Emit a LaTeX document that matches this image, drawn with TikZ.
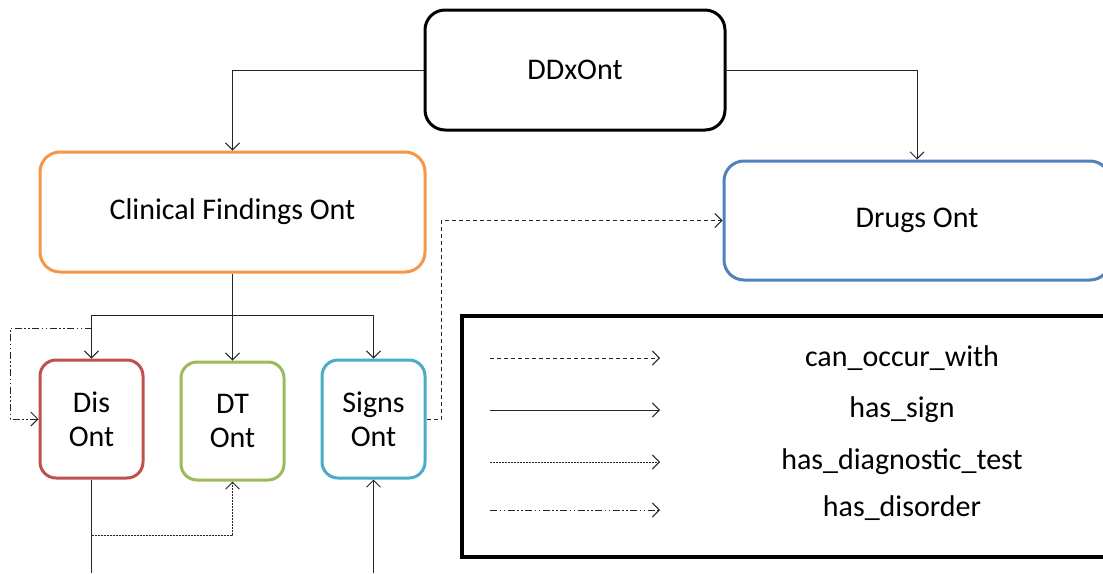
\documentclass[tikz,border=0pt]{standalone}
\usepackage{fontspec}
\setmainfont{Carlito}
\usetikzlibrary{arrows.meta}
\definecolor{ddxorange}{HTML}{F79646}
\definecolor{ddxred}{HTML}{C0504D}
\definecolor{ddxgreen}{HTML}{9BBB59}
\definecolor{ddxcyan}{HTML}{4BACC6}
\definecolor{ddxblue}{HTML}{4F81BD}
\definecolor{link}{HTML}{262626}
\tikzset{
  box/.style={draw, line width=3pt, rounded corners=20pt, fill=white,
    align=center, inner sep=0pt, font=\fontsize{30}{34}\selectfont},
  small/.style={box, rounded corners=16pt, minimum width=103pt, minimum height=118pt},
  link/.style={draw=link, line width=1pt, -{Straight Barb[length=7pt,width=14pt]}},
  hassign/.style={link},
  canoccur/.style={link, dash pattern=on 4pt off 3pt},
  hastest/.style={link, dash pattern=on 2pt off 1pt},
  hasdisorder/.style={link, dash pattern=on 7pt off 2.5pt on 1.5pt off 2.5pt on 1.5pt off 2.5pt},
  legendtext/.style={font=\fontsize{30}{34}\selectfont, anchor=center, inner sep=0pt}
}
\begin{document}
\begin{tikzpicture}[x=1pt, y=-1pt]
\useasboundingbox (0,0) rectangle (1103,573);

% main ontology boxes
\node[box, minimum width=300pt, minimum height=120pt] (ddx) at (575,70) {DDxOnt};
\node[box, draw=ddxorange, minimum width=385pt, minimum height=120pt] (cf) at (232.5,212) {Clinical Findings Ont};
\node[box, draw=ddxblue, minimum width=386pt, minimum height=119pt] (drugs) at (917,220.5) {Drugs Ont};

% sub-ontologies
\node[small, draw=ddxred] (dis) at (91.5,419) {Dis\\Ont};
\node[small, draw=ddxgreen] (dt) at (232.5,421) {DT\\Ont};
\node[small, draw=ddxcyan] (signs) at (373.5,419) {Signs\\Ont};

% legend frame, running past the right edge
\draw[line width=3.5pt] (1130,316) -- (462,316) -- (462,557) -- (1130,557);
\coordinate (l1a) at (490,358); \coordinate (l1b) at (660,358);
\coordinate (l2a) at (490,410); \coordinate (l2b) at (660,410);
\coordinate (l3a) at (490,462); \coordinate (l3b) at (660,462);
\coordinate (l4a) at (490,510); \coordinate (l4b) at (660,510);
\draw[canoccur] (l1a) -- (l1b);
\draw[hassign] (l2a) -- (l2b);
\draw[hastest] (l3a) -- (l3b);
\draw[hasdisorder] (l4a) -- (l4b);
\node[legendtext] (t1) at (902,358) {can\_occur\_with};
\node[legendtext] (t2) at (902,410) {has\_sign};
\node[legendtext] (t3) at (902,462) {has\_diagnostic\_test};
\node[legendtext] (t4) at (902,508) {has\_disorder};

% DDxOnt to its two parts
\draw[hassign] (ddx.west) -| (cf.north);
\draw[hassign] (ddx.east) -| (drugs.north);

% Clinical findings to its three parts
\coordinate (split) at (232.5,315);
\draw[hassign] (cf.south) -- (dt.north);
\draw[hassign] (split) -| (dis.north);
\draw[hassign] (split) -| (signs.north);

% signs can occur with drugs
\coordinate (sg1) at (441,419);
\draw[canoccur] (signs.east) -- (sg1) |- (drugs.west);

% disorder loop on Dis Ont
\coordinate (dl1) at (91.5,328);
\coordinate (dl2) at (10,328);
\draw[hasdisorder] (dl1) -- (dl2) |- (dis.west);

% Dis Ont down, diagnostic test to DT Ont
\coordinate (disend) at (91.5,573);
\coordinate (dtjoin) at (91.5,535);
\draw[draw=link, line width=1pt] (dis.south) -- (disend);
\draw[hastest] (dtjoin) -| (dt.south);

% sign link coming up into Signs Ont
\coordinate (sgend) at (373.5,573);
\draw[hassign] (sgend) -- (signs.south);
\end{tikzpicture}
\end{document}
